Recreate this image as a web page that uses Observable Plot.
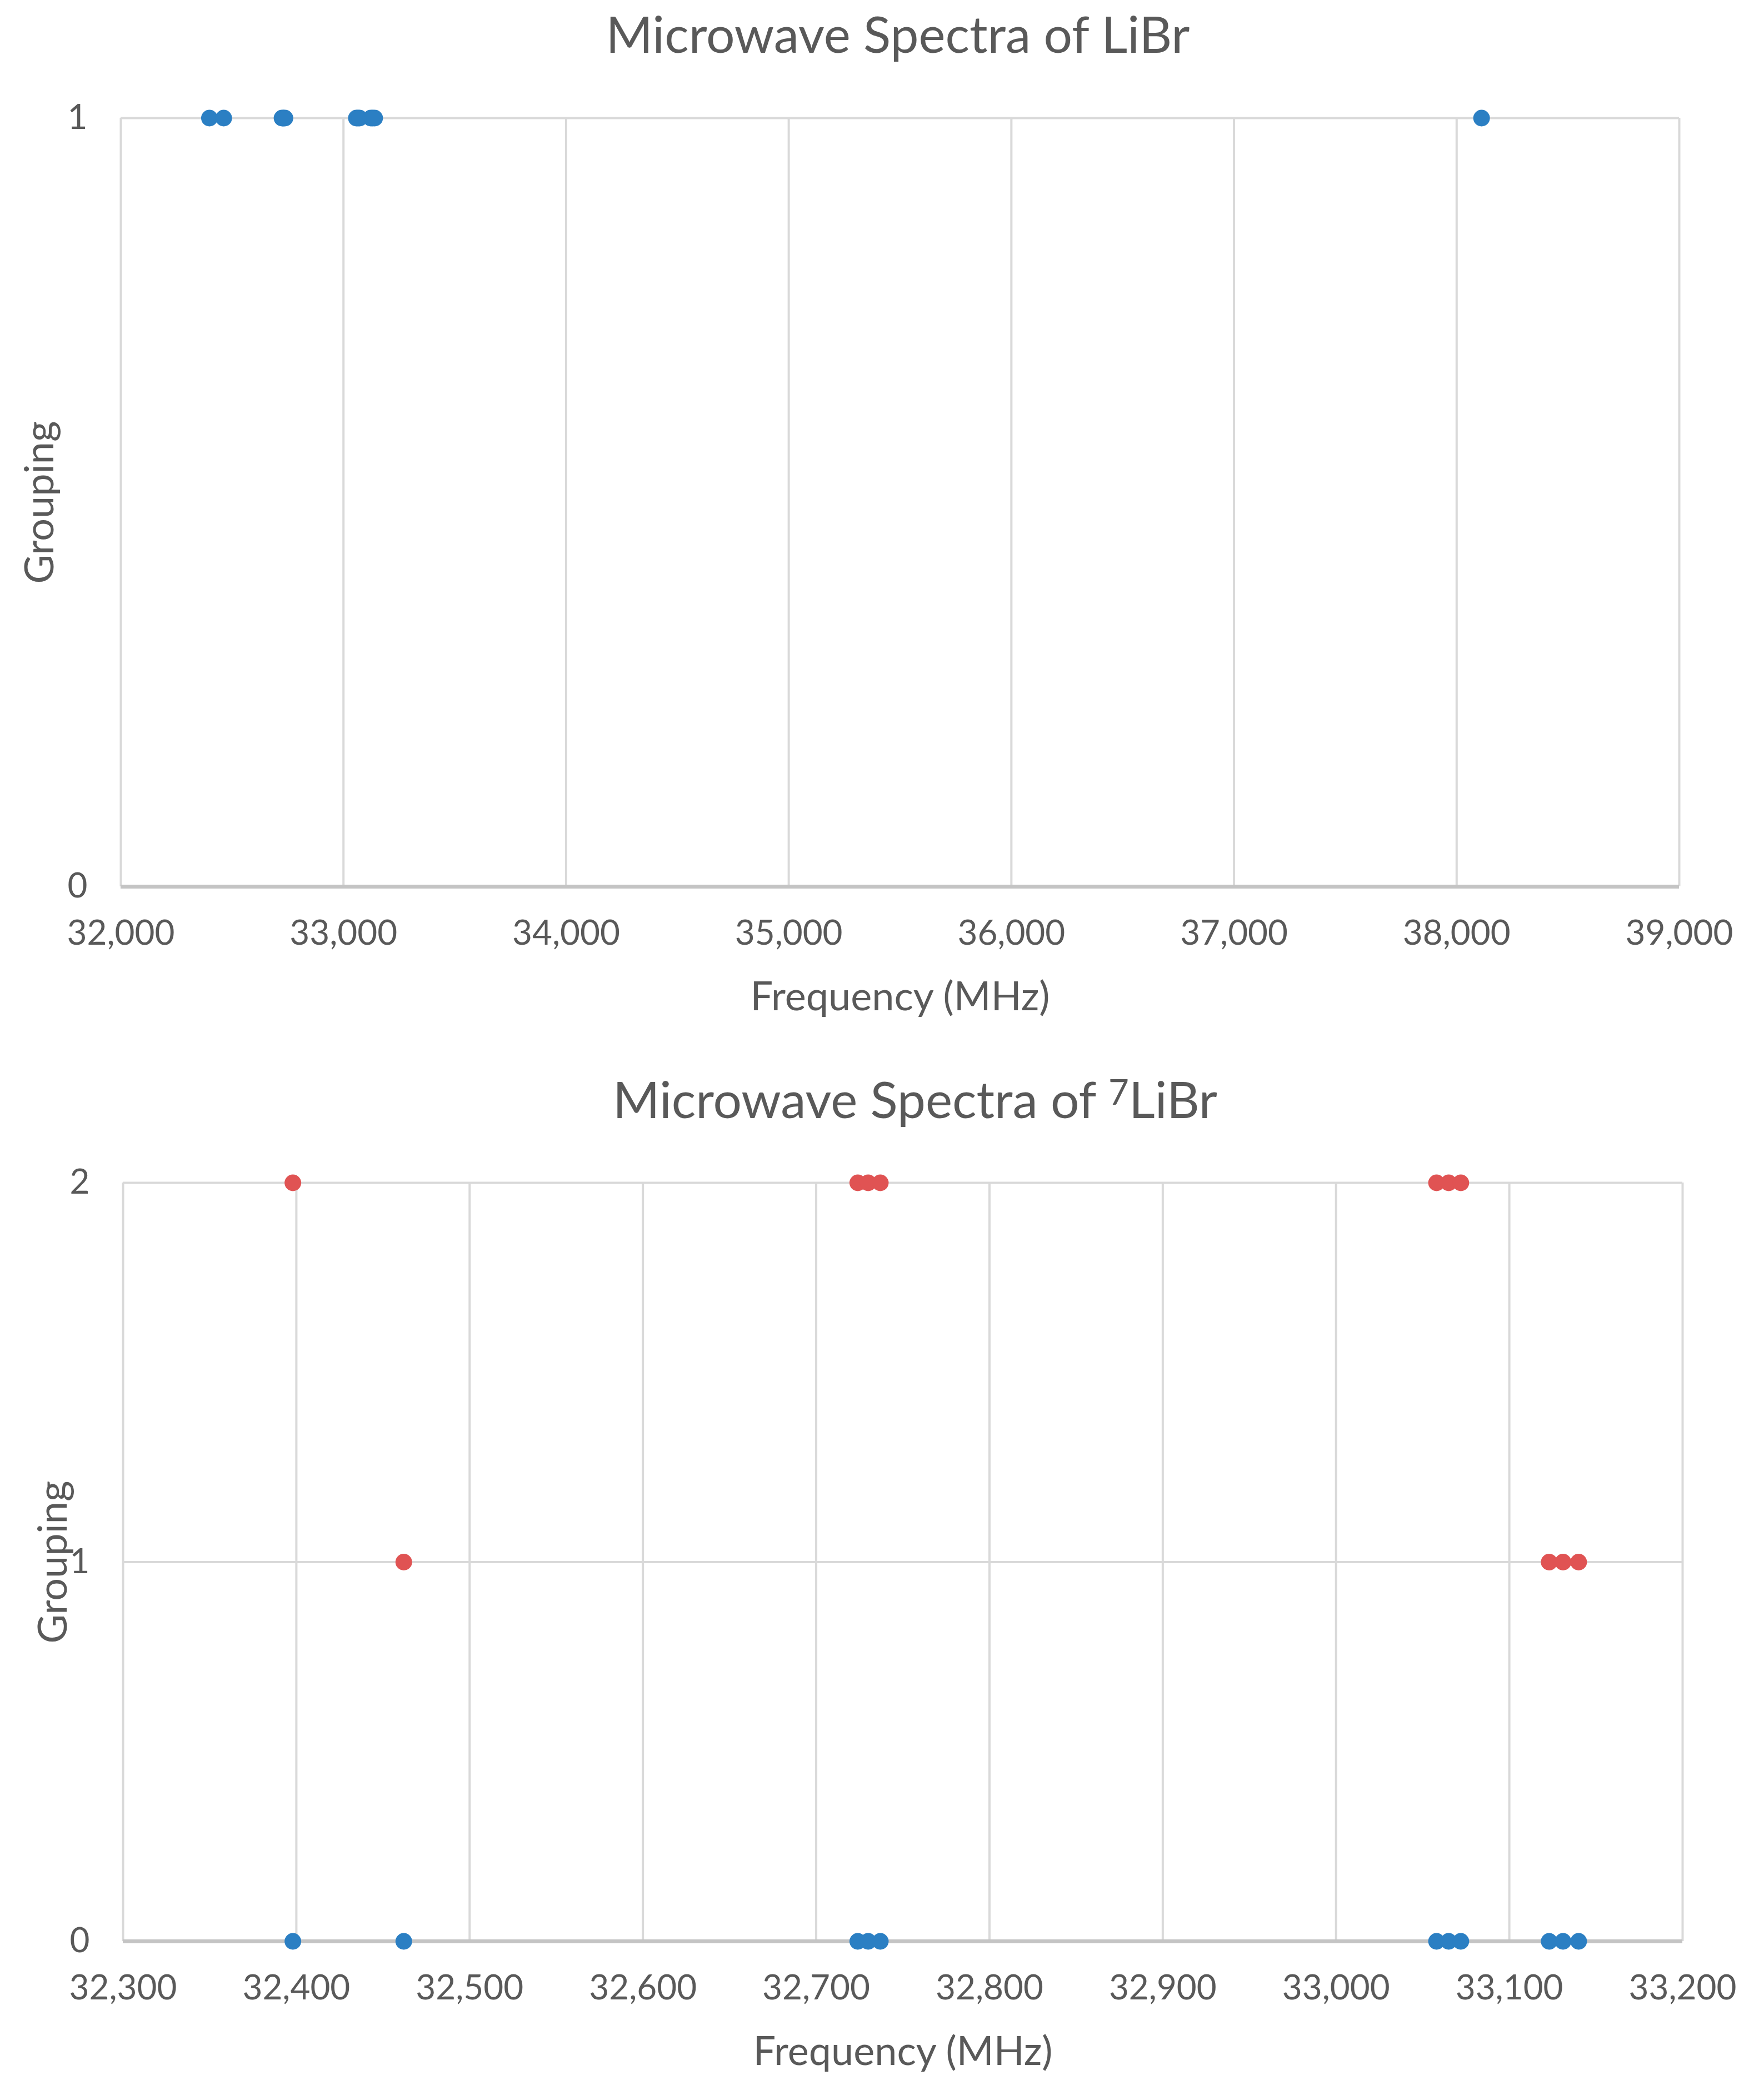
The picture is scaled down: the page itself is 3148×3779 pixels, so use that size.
<!DOCTYPE html>
<html>
<head>
<meta charset="utf-8">
<script src="https://cdn.jsdelivr.net/npm/d3@7"></script>
<script src="https://cdn.jsdelivr.net/npm/@observablehq/plot@0.6"></script>
<style>
  html, body { margin: 0; padding: 0; background: white; }
  #wrap { position: relative; width: 3148px; height: 3779px; background: white; overflow: hidden; }
  .chart { position: absolute; left: 0; z-index: 1; }
  .title {
    position: absolute; z-index: 5; transform: translateX(-50%); white-space: nowrap;
    font-family: Lato, "Open Sans", sans-serif; font-size: 91px; line-height: 1; color: #595959;
  }
  .title sup { font-size: 0.7em; position: relative; top: -0.37em; vertical-align: baseline; line-height: 0; }
</style>
</head>
<body>
<div id="wrap">
  <div id="top" class="chart" style="top:0px;"></div>
  <div id="bottom" class="chart" style="top:1880px;"></div>
  <div class="title" style="left:1616px; top:14px;">Microwave Spectra of LiBr</div>
  <div class="title" style="left:1647px; top:1931px;">Microwave Spectra of <sup>7</sup>LiBr</div>
</div>
<script>
// ---- Data ----
const topFreqs    = [32398, 32462, 32724, 32730, 32737, 33058, 33065, 33072, 33123, 33131, 33140, 38112];
const topGrouping = [1, 1, 1, 1, 1, 1, 1, 1, 1, 1, 1, 1];

const blueFreqs    = [32398, 32462, 32724, 32730, 32737, 33058, 33065, 33072, 33123, 33131, 33140];
const blueGrouping = [0, 0, 0, 0, 0, 0, 0, 0, 0, 0, 0];

const redFreqs    = [32398, 32462, 32724, 32730, 32737, 33058, 33065, 33072, 33123, 33131, 33140];
const redGrouping = [2, 1, 2, 2, 2, 2, 2, 2, 1, 1, 1];

const topXTicks    = [32000, 33000, 34000, 35000, 36000, 37000, 38000, 39000];
const topYTicks    = [0, 1];
const bottomXTicks = [32300, 32400, 32500, 32600, 32700, 32800, 32900, 33000, 33100, 33200];
const bottomYTicks = [0, 1, 2];

const xLabel = "Frequency (MHz)";
const yLabel = "Grouping";

// ---- Styles ----
const BLUE = "#2B7FC3";
const RED = "#E05353";
const GRID = "#D9D9D9";
const AXIS = "#C4C4C4";
const TEXT = "#595959";

const pts = (xs, ys) => xs.map((x, i) => ({x, y: ys[i]}));

function chart({height, margins, xDomain, yDomain, xTicks, yTicks, series, labelDx}) {
  return Plot.plot({
    width: 3148,
    height,
    marginLeft: margins[0], marginRight: margins[1], marginTop: margins[2], marginBottom: margins[3],
    x: {domain: xDomain},
    y: {domain: yDomain},
    style: {fontFamily: "Lato, 'Open Sans', sans-serif", fontSize: "62px", color: TEXT, background: "white"},
    marks: [
      Plot.ruleX(xTicks, {stroke: GRID, strokeWidth: 4}),
      Plot.ruleY(yTicks, {stroke: GRID, strokeWidth: 4}),
      Plot.ruleY([0], {stroke: AXIS, strokeWidth: 7}),
      Plot.axisX({ticks: xTicks, tickFormat: d3.format(","), tickSize: 0, tickPadding: 60, label: null}),
      Plot.axisY({ticks: yTicks, tickFormat: d3.format("d"), tickSize: 0, tickPadding: 60, label: null}),
      ...series.map(s => Plot.dot(pts(s.xs, s.ys), {x: "x", y: "y", r: 15, fill: s.color})),
      Plot.text([xLabel], {text: d => d, frameAnchor: "bottom", dy: 199, textAnchor: "middle", lineAnchor: "middle", fontSize: 72, fill: TEXT}),
      Plot.text([yLabel], {text: d => d, frameAnchor: "left", dx: labelDx, rotate: -90, textAnchor: "middle", lineAnchor: "middle", fontSize: 72, fill: TEXT})
    ]
  });
}

document.getElementById("top").append(chart({
  height: 1880,
  margins: [217, 126, 212, 285],
  xDomain: [32000, 39000],
  yDomain: [0, 1],
  xTicks: topXTicks,
  yTicks: topYTicks,
  series: [{xs: topFreqs, ys: topGrouping, color: BLUE}],
  labelDx: -145
}));

document.getElementById("bottom").append(chart({
  height: 1899,
  margins: [221, 120, 248, 286],
  xDomain: [32300, 33200],
  yDomain: [0, 2],
  xTicks: bottomXTicks,
  yTicks: bottomYTicks,
  series: [
    {xs: blueFreqs, ys: blueGrouping, color: BLUE},
    {xs: redFreqs, ys: redGrouping, color: RED}
  ],
  labelDx: -125
}));
</script>
</body>
</html>
